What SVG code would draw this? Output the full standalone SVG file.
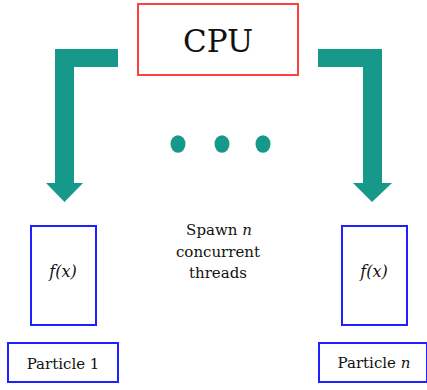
<svg xmlns="http://www.w3.org/2000/svg" width="427" height="390" viewBox="0 0 427 390">
<style>
.red{fill:#fff;stroke:#ff4040;stroke-width:2}
.blue{fill:#fff;stroke:#1f1fff;stroke-width:2}
.t{font-family:'DejaVu Serif',serif;fill:#111;text-anchor:middle}
.it{font-style:italic}
.arrow{fill:#16998a}
</style>
<rect width="427" height="390" fill="#fff"/>
<g id="connectors">
<polygon class="arrow" points="118,49 55,49 55,183 46,183 64.5,202 83,183 74,183 74,67 118,67"/>
<polygon class="arrow" points="318,49 382,49 382,183 392,183 372,202 353,183 363,183 363,67 318,67"/>
</g>
<g id="cpu">
<rect class="red" x="138" y="4" width="160" height="71"/>
<text class="t" x="218" y="52" font-size="31">CPU</text>
</g>
<g id="ellipsis">
<ellipse class="arrow" cx="178" cy="144" rx="7.5" ry="8.8"/>
<ellipse class="arrow" cx="222" cy="144" rx="7.5" ry="8.8"/>
<ellipse class="arrow" cx="263" cy="144" rx="7.5" ry="8.8"/>
</g>
<g id="label">
<text class="t" x="219" y="235" font-size="15">Spawn <tspan class="it">n</tspan></text>
<text class="t" x="218" y="257" font-size="15">concurrent</text>
<text class="t" x="218" y="278" font-size="15">threads</text>
</g>
<g id="fx1">
<rect class="blue" x="31" y="226" width="65" height="99"/>
<text class="t it" x="63" y="277" font-size="16">f(x)</text>
</g>
<g id="fxn">
<rect class="blue" x="342" y="226" width="65" height="99"/>
<text class="t it" x="374" y="277" font-size="16">f(x)</text>
</g>
<g id="particle1">
<rect class="blue" x="8" y="343" width="110" height="39"/>
<text class="t" x="63" y="369" font-size="15">Particle 1</text>
</g>
<g id="particlen">
<rect class="blue" x="319" y="343" width="108" height="39"/>
<text class="t" x="374" y="368" font-size="15">Particle <tspan class="it">n</tspan></text>
</g>
</svg>
